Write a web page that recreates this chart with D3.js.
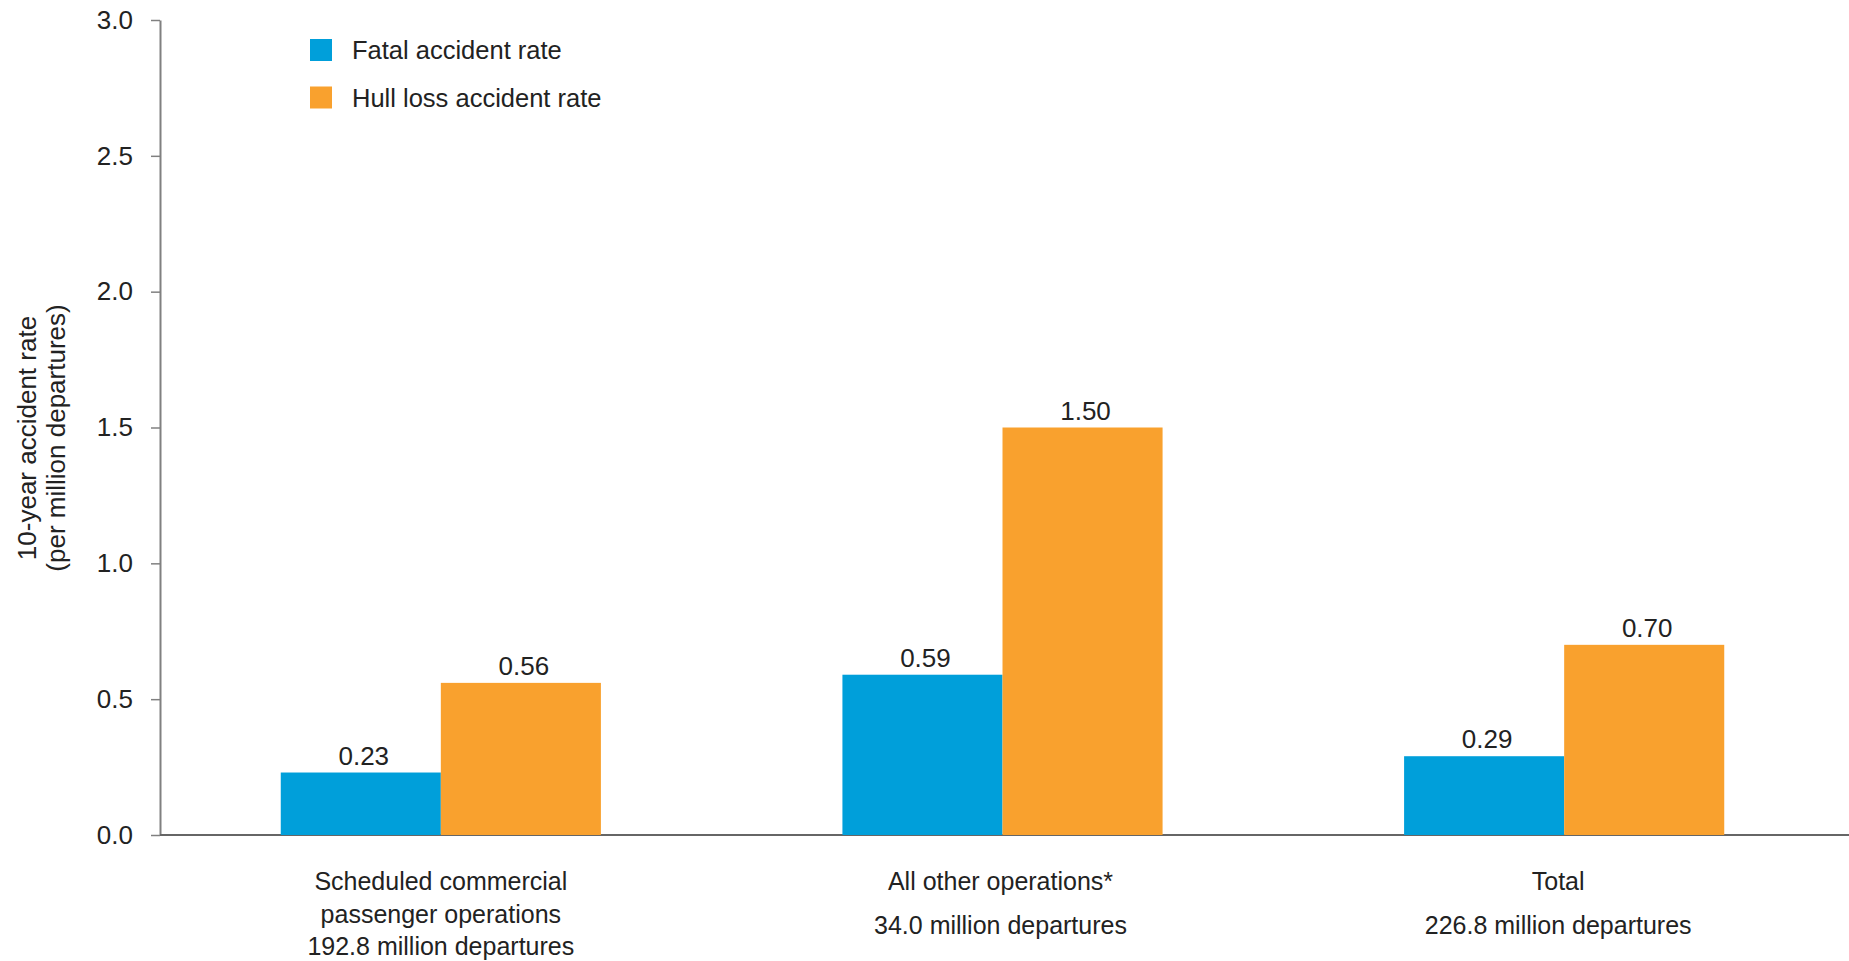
<!DOCTYPE html>
<html lang="en">
<head>
<meta charset="utf-8"/>
<script src="https://cdn.jsdelivr.net/npm/d3@7"></script>
<style>
  body { margin: 0; background: #fff; }
  text { font-family: "Liberation Sans", Arial, Helvetica, sans-serif; fill: #222; }
</style>
</head>
<body>
<script>
  // data
  var groups = ["sched", "other", "total"];
  var groupLabels = [
    ["Scheduled commercial", "passenger operations", "192.8 million departures"],
    ["All other operations*", "34.0 million departures"],
    ["Total", "226.8 million departures"]
  ];
  var seriesNames = ["Fatal accident rate", "Hull loss accident rate"];
  var seriesColors = ["#009fda", "#f9a12e"];
  var fatal = [0.23, 0.59, 0.29];
  var hull = [0.56, 1.50, 0.70];
  var yTicks = [0, 0.5, 1.0, 1.5, 2.0, 2.5, 3.0];

  var w = 1849, h = 961;
  var svg = d3.select("body").append("svg")
      .attr("width", w)
      .attr("height", h);

  var x0 = d3.scaleBand().domain(groups).range([160, 1845])
      .paddingInner(0.43).paddingOuter(0.215);
  var x1 = d3.scaleBand().domain([0, 1]).range([0, x0.bandwidth()]);
  var y = d3.scaleLinear().domain([0, 3]).range([835, 20]);

  // y axis
  var yAxis = svg.append("g")
      .attr("transform", "translate(160,0)")
      .call(d3.axisLeft(y).tickValues(yTicks).tickFormat(d3.format(".1f"))
          .tickSize(9).tickPadding(18).tickSizeOuter(0));
  yAxis.select(".domain").attr("stroke", "#808080").attr("stroke-width", 2);
  yAxis.selectAll(".tick line").attr("stroke", "#808080").attr("stroke-width", 1.5);
  yAxis.selectAll(".tick text")
      .style("font-family", '"Liberation Sans", Arial, sans-serif')
      .style("font-size", "26px").attr("fill", "#222");

  // baseline
  svg.append("line")
      .attr("x1", x0.range()[0]).attr("x2", w)
      .attr("y1", y(0)).attr("y2", y(0))
      .attr("stroke", "#666").attr("stroke-width", 2);

  // y title
  var yt = svg.append("text")
      .attr("transform", "translate(0," + 438 + ") rotate(-90)")
      .attr("text-anchor", "middle")
      .style("font-size", "26px");
  yt.append("tspan").attr("x", 0).attr("y", 36).text("10-year accident rate");
  yt.append("tspan").attr("x", 0).attr("y", 65).text("(per million departures)");

  // bars
  var rows = groups.map(function(g, i) { return [fatal[i], hull[i]]; });
  var gg = svg.selectAll(".grp").data(rows).enter().append("g")
      .attr("class", "grp")
      .attr("transform", function(d, i) { return "translate(" + x0(groups[i]) + ",0)"; });

  gg.selectAll("rect").data(function(d) { return d; }).enter().append("rect")
      .attr("x", function(d, j) { return x1(j); })
      .attr("width", x1.bandwidth())
      .attr("y", function(d) { return y(d); })
      .attr("height", function(d) { return y(0) - y(d); })
      .attr("fill", function(d, j) { return seriesColors[j]; });

  gg.selectAll(".val").data(function(d) { return d; }).enter().append("text")
      .attr("class", "val")
      .attr("x", function(d, j) { return x1(j) + x1.bandwidth() / 2 + 3; })
      .attr("y", function(d) { return y(d) - 8; })
      .attr("text-anchor", "middle")
      .style("font-size", "26px")
      .text(function(d) { return d3.format(".2f")(d); });

  // category labels
  groupLabels.forEach(function(lines, i) {
    var cx = x0(groups[i]) + x0.bandwidth() / 2 - (i == 2 ? 6 : i == 1 ? 2 : 0);
    var step = lines.length > 2 ? 32.5 : 44;
    var t = svg.append("text")
        .attr("text-anchor", "middle")
        .style("font-size", "25px");
    lines.forEach(function(s, k) {
      t.append("tspan").attr("x", cx).attr("y", 890 + k * step).text(s);
    });
  });

  // legend
  var lg = svg.selectAll(".lg").data(seriesNames).enter().append("g")
      .attr("class", "lg")
      .attr("transform", function(d, i) { return "translate(310," + (39 + i * 47.5) + ")"; });
  lg.append("rect").attr("width", 22).attr("height", 22)
      .attr("fill", function(d, i) { return seriesColors[i]; });
  lg.append("text").attr("x", 42).attr("y", 20)
      .style("font-size", "25.5px")
      .text(function(d) { return d; });
</script>
</body>
</html>
